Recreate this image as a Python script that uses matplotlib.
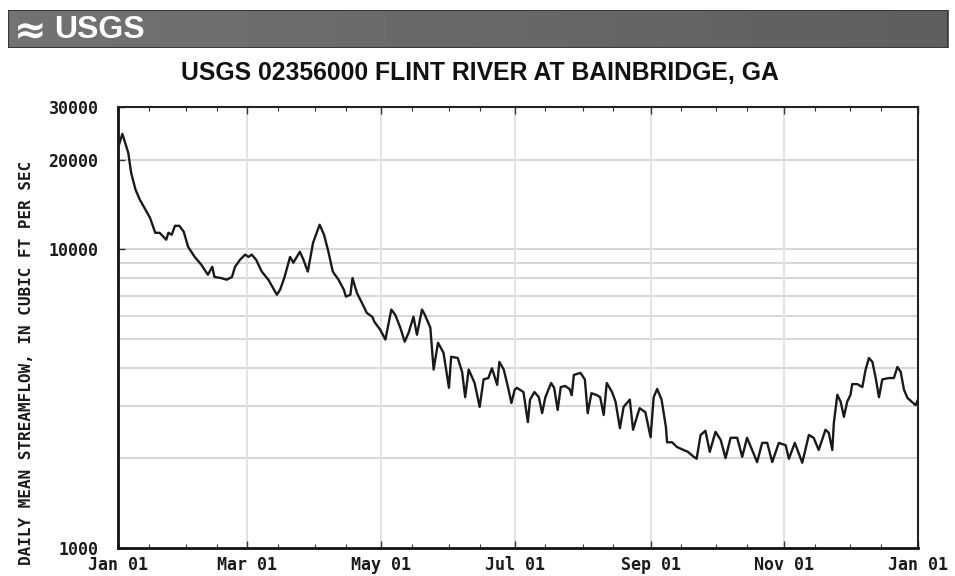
"""USGS daily mean streamflow plot, Flint River at Bainbridge GA (one year)."""

import matplotlib

matplotlib.use("Agg")

import matplotlib.dates as mdates  # noqa: E402
import matplotlib.pyplot as plt  # noqa: E402
import numpy as np  # noqa: E402
import pandas as pd  # noqa: E402
from matplotlib import font_manager  # noqa: E402
from matplotlib.patches import Rectangle  # noqa: E402
from matplotlib.ticker import FixedLocator, NullFormatter  # noqa: E402

# day of year (0 = Jan 01) -> daily mean streamflow, cfs
day = [
    0, 2, 4.7, 6, 8, 10, 12, 14.6, 17, 19, 22, 23, 24.5, 26, 28, 30, 32, 35,
    38, 41, 43, 44, 47, 49.6, 52, 53.4, 55.7, 58, 59.5, 61, 63, 65.6, 68.6,
    72.5, 74, 76, 78.5, 80, 83, 84.6, 86.6, 89, 92, 94, 96, 98, 100.6, 103,
    104, 106, 107, 109, 111, 113.5, 116, 117, 119.6, 122, 124.7, 126.5,
    128.8, 130.8, 132.6, 134.8, 136.4, 138.7, 140, 142.5, 144, 146, 148.5,
    151, 152, 155, 157, 158.4, 160, 162.7, 165, 166.8, 169, 170.6, 173, 174,
    176, 178, 179.5, 181, 182, 185, 187, 188, 190, 192, 193.5, 195, 197.6,
    199, 200.6, 202, 204, 206, 207, 208, 211, 213, 214.3, 216, 218.5, 220,
    221.6, 223, 225.4, 227, 229, 230.7, 233.5, 235, 237, 238, 240.6, 243,
    244.4, 246, 248, 250, 250.5, 252.8, 255, 258, 260, 262.7, 264, 265.8,
    268, 270, 272.6, 275, 277.2, 279.5, 282.5, 284.8, 287, 291.6, 293.9,
    296.2, 298.5, 301.5, 304.6, 306.1, 308.8, 312.2, 315.2, 317.4, 319.7,
    322.8, 324.3, 325.9, 326.6, 328.2, 329.7, 331.2, 332.7, 334.2, 335,
    337.3, 339.6, 341.1, 342.6, 344.2, 345.7, 347.2, 348.7, 351.8, 354,
    355.6, 357.1, 358.6, 360.2, 363.9, 365,
]
flow = [
    21880, 24380, 21050, 18050, 15850, 14660, 13800, 12770, 11370, 11370,
    10780, 11370, 11200, 12000, 12000, 11460, 10200, 9440, 8890, 8230, 8750,
    8090, 8020, 7920, 8090, 8750, 9240, 9610, 9440, 9610, 9240, 8430, 7920,
    7050, 7340, 8090, 9440, 9030, 9820, 9240, 8430, 10530, 12100, 11200,
    9820, 8430, 7920, 7340, 6950, 7050, 8020, 7150, 6690, 6130, 5950, 5720,
    5390, 4990, 6290, 6040, 5470, 4910, 5260, 5950, 5180, 6290, 6040, 5470,
    3960, 4870, 4510, 3440, 4370, 4330, 3890, 3200, 3960, 3570, 2970, 3670,
    3710, 4000, 3520, 4200, 3960, 3440, 3060, 3390, 3440, 3330, 2640, 3140,
    3330, 3200, 2830, 3200, 3570, 3440, 2900, 3460, 3490, 3410, 3250, 3800,
    3860, 3670, 2830, 3300, 3250, 3200, 2790, 3570, 3330, 3090, 2520, 2970,
    3140, 2490, 2790, 2940, 2850, 2350, 3200, 3410, 3140, 2540, 2260, 2260,
    2180, 2130, 2100, 2020, 1990, 2390, 2470, 2100, 2450, 2300, 2000, 2340,
    2340, 2020, 2340, 1940, 2250, 2250, 1940, 2250, 2210, 1990, 2250, 1930,
    2390, 2340, 2130, 2490, 2430, 2130, 2620, 3260, 3090, 2750, 3090, 3260,
    3540, 3540, 3460, 3960, 4330, 4200, 3710, 3200, 3670, 3710, 3710, 4040,
    3890, 3390, 3180, 3010, 3140,
]

year_start = "2002-01-01"
x_ticks = ["2002-01-01", "2002-03-01", "2002-05-01", "2002-07-01",
           "2002-09-01", "2002-11-01", "2003-01-01"]
y_ticks = [1000, 10000, 20000, 30000]
y_grid = [2000, 3000, 4000, 5000, 6000, 7000, 8000, 9000, 10000, 20000]

title = "USGS 02356000 FLINT RIVER AT BAINBRIDGE, GA"
ylabel = "DAILY MEAN STREAMFLOW, IN CUBIC FT PER SEC"

installed = {f.name for f in font_manager.fontManager.ttflist}
if "Liberation Sans Narrow" in installed:
    title_font, title_size = "Liberation Sans Narrow", 21
else:
    title_font, title_size = "Liberation Sans", 17.8
mono = "DejaVu Sans Mono"

dates = pd.Timestamp(year_start) + pd.to_timedelta(day, unit="D")

fig = plt.figure(figsize=(9.55, 5.76), dpi=100)
fig.patch.set_facecolor("white")

# header banner: flat mid-grey strip, a touch lighter on the left
banner = fig.add_axes([8 / 955, 1 - 48 / 576, 940 / 955, 38 / 576])
shade = np.linspace(0.45, 0.37, 256)[None, :]
banner.imshow(shade, aspect="auto", cmap="gray", vmin=0, vmax=1,
              extent=(0, 1, 0, 1))
banner.add_patch(Rectangle((0, 0), 1, 1, fill=False, ec="#3a3a3a", lw=1.5,
                           transform=banner.transAxes))
banner.text(0.006, 0.45, "≈", color="white", fontsize=28, fontweight="bold",
            va="center", ha="left", family="DejaVu Sans")
banner.text(0.049, 0.47, "USGS", color="white", fontsize=23,
            fontweight="bold", va="center", ha="left", family=title_font)
banner.set_xlim(0, 1)
banner.set_ylim(0, 1)
banner.set_axis_off()

fig.text(480 / 955, 1 - 73 / 576, title, ha="center", va="center",
         fontsize=title_size, fontweight="bold", family=title_font,
         color="#111111")

ax = fig.add_axes([118 / 955, 1 - 548 / 576, 800 / 955, 441 / 576])
ax.set_yscale("log")
ax.set_ylim(1000, 30000)
ax.set_xlim(pd.Timestamp(x_ticks[0]), pd.Timestamp(x_ticks[-1]))

for v in y_grid:
    ax.axhline(v, color="#d6d6d6", lw=1.4, zorder=1)
for t in x_ticks[1:-1]:
    ax.axvline(pd.Timestamp(t), color="#e2e2e2", lw=1.4, zorder=1)

ax.plot(dates, flow, color="#1a1a1a", lw=1.7, zorder=3)

ax.yaxis.set_major_locator(FixedLocator(y_ticks))
ax.yaxis.set_minor_locator(FixedLocator(y_grid))
ax.yaxis.set_minor_formatter(NullFormatter())
ax.set_yticklabels([str(v) for v in y_ticks])
ax.xaxis.set_major_locator(FixedLocator(mdates.date2num(pd.to_datetime(x_ticks))))
ax.xaxis.set_major_formatter(mdates.DateFormatter("%b %d"))
ax.xaxis.set_minor_locator(mdates.DayLocator(bymonthday=[1, 15]))

ax.tick_params(axis="both", which="both", direction="in", top=True,
               right=False, color="#333333")
ax.tick_params(axis="both", which="major", length=5, width=1)
ax.tick_params(axis="x", which="minor", length=3, width=0.8)
ax.tick_params(axis="y", which="minor", length=0)
ax.tick_params(axis="x", which="major", pad=6)
ax.tick_params(axis="y", which="major", pad=14)
for lab in ax.get_xticklabels() + ax.get_yticklabels():
    lab.set_family(mono)
    lab.set_fontweight("bold")
    lab.set_fontsize(12)
    lab.set_color("#1a1a1a")

ax.set_ylabel(ylabel, family=mono, fontweight="bold", fontsize=11.5,
              color="#1a1a1a", labelpad=8)
ax.yaxis.set_label_coords(-0.105, 0.42)

for side in ("left", "bottom"):
    ax.spines[side].set_linewidth(2)
    ax.spines[side].set_color("#111111")
for side in ("top", "right"):
    ax.spines[side].set_linewidth(1.5)
    ax.spines[side].set_color("#222222")

fig.savefig("out.png", dpi=100)
